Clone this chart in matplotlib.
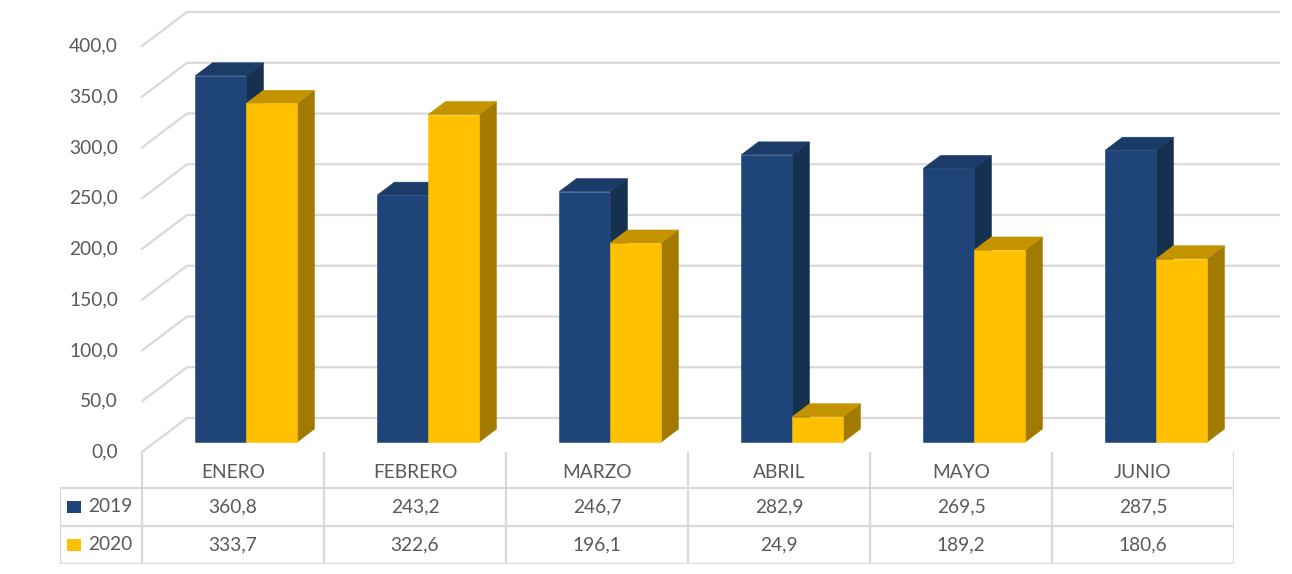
import matplotlib
matplotlib.use("Agg")
import matplotlib.pyplot as plt
from matplotlib.patches import Polygon, Rectangle

plt.rcParams["font.family"] = ["Lato", "DejaVu Sans"]

# data
months = ["ENERO", "FEBRERO", "MARZO", "ABRIL", "MAYO", "JUNIO"]
series = ["2019", "2020"]
v2019 = [360.8, 243.2, 246.7, 282.9, 269.5, 287.5]
v2020 = [333.7, 322.6, 196.1, 24.9, 189.2, 180.6]
yticks = [0, 50, 100, 150, 200, 250, 300, 350, 400]

W, H = 1292, 574
slotPx = 182.0          # width of a category on the front plane
pxPerUnit = 1.015       # vertical pixels per value unit
x0Px, y0Px = 142, 452   # front-left corner of the floor

# depth of the 3D box, front -> back
DX = 45.0 / slotPx
DY = 34.0 / pxPerUnit
barD0, barD1 = 0.294, 0.676
barW = 51.0 / slotPx

textColor = "#595959"
gridColor = "#d9d9d9"
fontSize = 13.8
faces = {
    "2019": ("#1f4478", "#1b3b69", "#16304f"),
    "2020": ("#ffc000", "#c49300", "#a27a00"),
}

fig = plt.figure(figsize=(W / 100, H / 100), dpi=100)
ax = fig.add_axes([0, 0, 1, 1])
ax.set_axis_off()
ax.set_xlim(-x0Px / slotPx, (W - x0Px) / slotPx)
ax.set_ylim(-(H - y0Px) / pxPerUnit, y0Px / pxPerUnit)


def proj(x, v, d):
    return (x + d * DX, v + d * DY)


# gridlines: left side diagonal + back wall
nCat = len(months)
for t in yticks:
    a = proj(0, t, 0)
    b = proj(0, t, 1)
    c = proj(nCat, t, 1)
    ax.plot([a[0], b[0], c[0]], [a[1], b[1], c[1]], color=gridColor, lw=1.6,
            solid_joinstyle="miter", zorder=1)
    ax.text(a[0] - 24 / slotPx, t, "{:.1f}".format(t).replace(".", ","),
            ha="right", va="center", fontsize=fontSize, color=textColor)


def drawBar(xl, v, cols):
    front, top, side = cols
    xr = xl + barW
    f = [proj(xl, 0, barD0), proj(xr, 0, barD0), proj(xr, v, barD0), proj(xl, v, barD0)]
    tp = [proj(xl, v, barD0), proj(xr, v, barD0), proj(xr, v, barD1), proj(xl, v, barD1)]
    sd = [proj(xr, 0, barD0), proj(xr, 0, barD1), proj(xr, v, barD1), proj(xr, v, barD0)]
    for pts, c in ((sd, side), (tp, top), (f, front)):
        ax.add_patch(Polygon(pts, closed=True, facecolor=c, edgecolor=c,
                             lw=0.4, zorder=3))


for i in range(nCat):
    center = i + 0.5
    drawBar(center - barW, v2019[i], faces["2019"])
    drawBar(center, v2020[i], faces["2020"])

# data table
tab = fig.add_axes([60 / W, (H - 564) / H, (x0Px + nCat * slotPx - 60) / W, 112 / H])
tab.set_axis_off()
tab.set_xlim(-(x0Px - 60) / slotPx, nCat)
tab.set_ylim(112, 0)
rows = [0, 36, 74, 112]
hdrL = -(x0Px - 60) / slotPx
lineKw = dict(color=gridColor, lw=1.6, zorder=1)
for r in rows[1:]:
    tab.plot([hdrL, nCat], [r, r], **lineKw)
tab.plot([hdrL, hdrL], [rows[1], rows[3]], **lineKw)
for i in range(nCat + 1):
    tab.plot([i, i], [rows[0], rows[3]], **lineKw)

for i, m in enumerate(months):
    tab.text(i + 0.5, (rows[0] + rows[1]) / 2 + 2, m, ha="center", va="center",
             fontsize=fontSize, color=textColor)
    tab.text(i + 0.5, (rows[1] + rows[2]) / 2, "{:.1f}".format(v2019[i]).replace(".", ","),
             ha="center", va="center", fontsize=fontSize, color=textColor)
    tab.text(i + 0.5, (rows[2] + rows[3]) / 2, "{:.1f}".format(v2020[i]).replace(".", ","),
             ha="center", va="center", fontsize=fontSize, color=textColor)

for j, s in enumerate(series):
    yc = (rows[j + 1] + rows[j + 2]) / 2
    tab.add_patch(Rectangle((hdrL + 7 / slotPx, yc - 6), 14 / slotPx, 12,
                            facecolor=faces[s][0], edgecolor="none"))
    tab.text(hdrL + 28 / slotPx, yc, s, ha="left", va="center", fontsize=fontSize,
             color=textColor)

fig.savefig("out.png", dpi=100)
